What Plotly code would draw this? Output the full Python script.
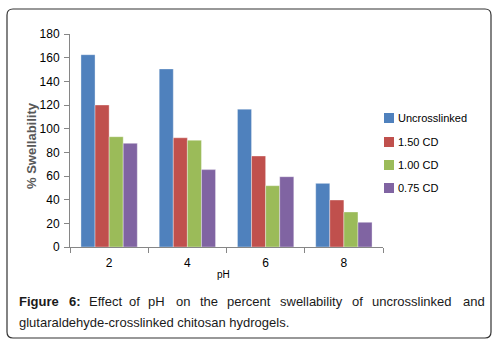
import plotly.graph_objects as go

categories = ["2", "4", "6", "8"]
uncrosslinked = [162.5, 150.5, 116.5, 53.8]
cd_150 = [120.0, 92.3, 76.9, 39.7]
cd_100 = [93.2, 90.2, 51.8, 29.6]
cd_075 = [87.6, 65.4, 59.4, 20.9]

series_names = ["Uncrosslinked", "1.50 CD", "1.00 CD", "0.75 CD"]
series_values = [uncrosslinked, cd_150, cd_100, cd_075]
colors = ["#4F81BD", "#C0504D", "#9BBB59", "#8064A2"]

caption_line1_words = ["Figure", "6:", "Effect", "of", "pH", "on", "the", "percent",
                       "swellability", "of", "uncrosslinked", "and"]
caption_line1_x = [17, 67, 87, 127, 146, 174, 198, 225, 278, 350, 370, 461]
caption_line2 = "glutaraldehyde-crosslinked chitosan hydrogels."

W, H = 502, 346
FONT = "Liberation Sans, Arial, sans-serif"
L, R, T, B = 70, 383, 34, 247  # plot area in pixels


def px(x):
    return (x - L) / (R - L)


def py(y):
    return (B - y) / (B - T)


fig = go.Figure()
for name, vals, c in zip(series_names, series_values, colors):
    fig.add_trace(go.Bar(
        x=categories, y=vals, name=name, showlegend=False,
        marker=dict(color=c, line=dict(color="rgba(255,255,255,0.6)", width=0.6)),
    ))

fig.update_layout(
    width=W, height=H,
    margin=dict(l=L, r=W - R, t=T, b=H - B, autoexpand=False),
    paper_bgcolor="white", plot_bgcolor="white",
    barmode="group", bargap=0.28, bargroupgap=0,
    font=dict(family=FONT, size=11, color="black"),
    showlegend=False,
    xaxis=dict(
        type="category", automargin=False, showline=True, linecolor="#868686", linewidth=1,
        ticks="outside", ticklen=5, tickcolor="#868686", tickson="boundaries",
        tickfont=dict(size=12, color="black"), showgrid=False,
        ticklabelstandoff=5,
    ),
    yaxis=dict(
        range=[0, 180], dtick=20, automargin=False, showline=True, linecolor="#868686",
        linewidth=1, ticks="outside", ticklen=5, tickcolor="#868686",
        tickfont=dict(size=12, color="black"), showgrid=False, zeroline=False,
        ticklabelstandoff=2,
    ),
)

x0, x1, y0, y1, r = 7, 491, 9, 338, 6
path = (f"M {px(x0 + r)},{py(y0)} L {px(x1 - r)},{py(y0)} "
        f"Q {px(x1)},{py(y0)} {px(x1)},{py(y0 + r)} "
        f"L {px(x1)},{py(y1 - r)} Q {px(x1)},{py(y1)} {px(x1 - r)},{py(y1)} "
        f"L {px(x0 + r)},{py(y1)} Q {px(x0)},{py(y1)} {px(x0)},{py(y1 - r)} "
        f"L {px(x0)},{py(y0 + r)} Q {px(x0)},{py(y0)} {px(x0 + r)},{py(y0)} Z")
shapes = [dict(type="path", xref="paper", yref="paper", path=path,
               line=dict(color="#333333", width=1.2), layer="below")]

annotations = []
annotations.append(dict(text="<b>% Swellability</b>", x=px(31), y=py(146), xref="paper",
                        yref="paper", textangle=-90, showarrow=False,
                        xanchor="center", yanchor="middle",
                        font=dict(size=13, family=FONT, color="#595959")))
annotations.append(dict(text="pH", x=px(223), y=py(274), xref="paper", yref="paper",
                        showarrow=False, xanchor="center", yanchor="middle",
                        font=dict(size=10, family=FONT, color="black")))

legend_y = [118, 142, 165, 188]
for name, c, ly in zip(series_names, colors, legend_y):
    shapes.append(dict(type="rect", xref="paper", yref="paper",
                       x0=px(384), x1=px(394), y0=py(ly - 5), y1=py(ly + 5),
                       fillcolor=c, line=dict(width=0)))
    annotations.append(dict(text=name, x=px(396), y=py(ly), xref="paper", yref="paper",
                            xanchor="left", yanchor="middle", showarrow=False,
                            font=dict(size=11, family=FONT, color="black")))

for i, (w, xp) in enumerate(zip(caption_line1_words, caption_line1_x)):
    txt = f"<b>{w}</b>" if i < 2 else w
    annotations.append(dict(text=txt, x=px(xp), y=py(301), xref="paper", yref="paper",
                            xanchor="left", yanchor="middle", showarrow=False,
                            font=dict(size=13, family=FONT, color="#1a1a1a")))
annotations.append(dict(text=caption_line2, x=px(17), y=py(322), xref="paper", yref="paper",
                        xanchor="left", yanchor="middle", showarrow=False,
                        font=dict(size=13, family=FONT, color="#1a1a1a")))

fig.update_layout(shapes=shapes, annotations=annotations)

# remove the default 8px body margin so the figure sits at the window origin
fig.write_html("out.html",
               config={"displayModeBar": False},
               post_script="document.body.style.margin='0px';document.body.style.overflow='hidden';")
